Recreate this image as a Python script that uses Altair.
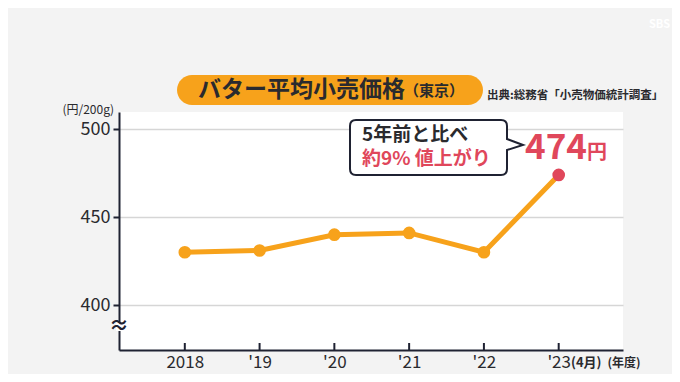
import altair as alt
import pandas as pd

# ---- data ----
years = [2018, 2019, 2020, 2021, 2022, 2023]
prices = [430, 431, 440, 441, 430, 474]
x_labels = ["2018", "'19", "'20", "'21", "'22", "'23"]
point_kind = ["past", "past", "past", "past", "past", "latest"]
y_ticks = [400, 450, 500]

title_main = ["バター平均小売価格"]
title_sub = ["（東京）"]
source_text = ["出典:総務省「小売物価統計調査」"]
unit_y = ["(円/200g)"]
unit_x = ["(年度)"]
month_note = ["(4月)"]
callout_line1 = ["5年前と比べ"]
callout_line2 = ["約9% 値上がり"]
latest_value = ["474"]
latest_unit = ["円"]
logo_text = ["SBS"]

ORANGE = "#F7A21B"
RED = "#E0475B"
DARK = "#1f2232"
TEXT = "#2a2a2e"
FONT = "Noto Sans CJK JP"

W, H = 504, 238

df = pd.DataFrame({"year": years, "price": prices, "kind": point_kind})

label_expr = "".join(f'datum.value == {y} ? "{l}" : ' for y, l in zip(years, x_labels)) + '""'

x_enc = alt.X(
    "year:Q",
    scale=alt.Scale(domain=[2017.12, 2023.86], nice=False, zero=False),
    axis=alt.Axis(
        values=years, labelExpr=label_expr, title=None, grid=False, ticks=False,
        domainColor=DARK, domainWidth=2, labelFontSize=17, labelColor=TEXT,
        labelFont=FONT, labelPadding=4,
    ),
)
y_enc = alt.Y(
    "price:Q",
    scale=alt.Scale(domain=[374.4, 509.8], nice=False, zero=False),
    axis=alt.Axis(
        values=y_ticks, title=None, grid=True, gridColor="#d6d6d6", gridWidth=1.5,
        domainColor=DARK, domainWidth=2, tickColor=DARK, tickWidth=2, tickSize=6,
        labelFontSize=18, labelColor=TEXT, labelFont=FONT, labelPadding=3,
    ),
)

base = alt.Chart(df)

line = base.mark_line(color=ORANGE, strokeWidth=5).encode(x=x_enc, y=y_enc)
points = base.mark_circle(size=160, opacity=1).encode(
    x="year:Q", y="price:Q",
    color=alt.Color("kind:N", scale=alt.Scale(domain=["past", "latest"], range=[ORANGE, RED]), legend=None),
)
xticks = base.mark_rule(color=DARK, strokeWidth=2).encode(
    x="year:Q", y=alt.value(H - 7), y2=alt.value(H)
)


def one(lst):
    return alt.Chart(pd.DataFrame({"t": lst}))


def txt(lst, x, y, size, color=TEXT, weight="bold", align="left", baseline="middle"):
    return one(lst).mark_text(
        font=FONT, fontSize=size, fontWeight=weight, color=color, align=align, baseline=baseline
    ).encode(x=alt.value(x), y=alt.value(y), text="t:N")


# axis break
brk_bg = one([0]).mark_rect(color="white").encode(
    x=alt.value(-3), x2=alt.value(3), y=alt.value(211), y2=alt.value(219)
)
brk = txt(["≈"], 0, 215, 20, color=DARK, align="center")

# title pill
pill = one([0]).mark_rect(color=ORANGE, cornerRadius=15).encode(
    x=alt.value(58), x2=alt.value(364), y=alt.value(-37), y2=alt.value(-7)
)
t_main = txt(title_main, 79, -22, 23)
t_sub = txt(title_sub, 285, -21, 15)
t_src = txt(source_text, 368, -16, 11.5)
t_uy = txt(unit_y, -5, -2, 12, weight="normal", align="right")
t_ux = txt(unit_x, 505, 251, 12, align="center")
t_month = txt(month_note, 452, 251, 13)

# callout bubble (path in pixel units, size=4 -> scale 1)
bubble_path = (
    "M-72,-27 L73,-27 Q79,-27 79,-21 L79,-8 L95,-2 L79,3 L79,22 Q79,28 73,28 "
    "L-72,28 Q-78,28 -78,22 L-78,-21 Q-78,-27 -72,-27 Z"
)
bubble = one([0]).mark_point(
    shape=bubble_path, size=4, filled=True, fill="white", stroke=DARK, strokeWidth=2, opacity=1
).encode(x=alt.value(309), y=alt.value(35))
c1 = txt(callout_line1, 243, 23, 19, color=TEXT)
c2 = txt(callout_line2, 243, 47, 19, color=RED)
v474 = txt(latest_value, 406, 47, 35, color=RED, baseline="alphabetic")
v_yen = txt(latest_unit, 468, 47, 20, color=RED, baseline="alphabetic")

logo = txt(logo_text, 530, -87, 11, color="white")

chart = alt.layer(
    line, xticks, points, brk_bg, brk, pill, t_main, t_sub, t_src, t_uy, t_ux, t_month,
    bubble, c1, c2, v474, v_yen, logo,
).properties(
    width=W, height=H,
    padding={"left": 111, "top": 104, "right": 49, "bottom": 24},
    autosize=alt.AutoSizeParams(type="none"),
    background="#f3f3f3",
).configure_view(fill="white", strokeWidth=0)

chart.save("out.html", embed_options={"renderer": "svg", "actions": False})
